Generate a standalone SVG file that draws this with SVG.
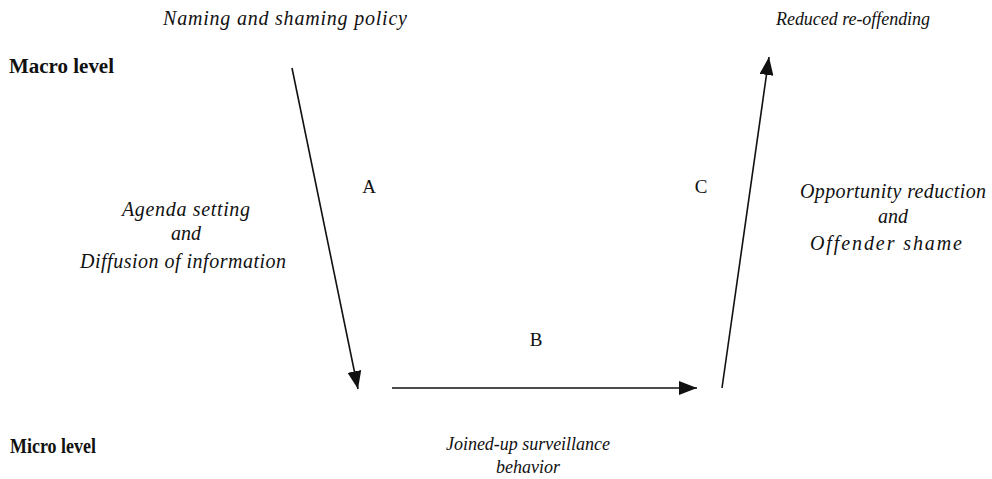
<svg xmlns="http://www.w3.org/2000/svg" width="992" height="479" viewBox="0 0 992 479">
<defs>
<style>
.it{font-family:"Liberation Serif","Times New Roman",serif;font-style:italic;font-size:20px;fill:#111;text-anchor:middle}
.sm{font-size:18px}
.bd{font-family:"Liberation Serif","Times New Roman",serif;font-weight:bold;font-size:20px;fill:#111}
.lb{font-family:"Liberation Serif","Times New Roman",serif;font-size:19px;fill:#111;text-anchor:middle}
.ar{stroke:#111;stroke-width:1.6;fill:none}
</style>
<marker id="ah" markerUnits="userSpaceOnUse" markerWidth="20" markerHeight="14" refX="18" refY="7" orient="auto">
<path d="M0,0 L18,7 L0,14 Z" fill="#111"/>
</marker>
</defs>
<rect width="992" height="479" fill="#fff"/>
<g id="macro"><text class="bd" x="9" y="73" textLength="105" lengthAdjust="spacingAndGlyphs">Macro level</text></g>
<g id="micro"><text class="bd" x="10" y="453" textLength="86" lengthAdjust="spacingAndGlyphs">Micro level</text></g>
<g id="naming"><text class="it" x="285" y="25" textLength="244" lengthAdjust="spacing">Naming and shaming policy</text></g>
<g id="reduced"><text class="it sm" x="853" y="25" textLength="154" lengthAdjust="spacing">Reduced re-offending</text></g>
<g id="agenda">
<text class="it" x="186" y="216" textLength="128" lengthAdjust="spacing">Agenda setting</text>
<text class="it" x="186" y="240">and</text>
<text class="it" x="183" y="268" textLength="206" lengthAdjust="spacing">Diffusion of information</text>
</g>
<g id="opportunity">
<text class="it" x="893" y="198" textLength="186" lengthAdjust="spacing">Opportunity reduction</text>
<text class="it" x="893" y="223">and</text>
<text class="it" x="886" y="250" textLength="152" lengthAdjust="spacing">Offender shame</text>
</g>
<g id="joined">
<text class="it sm" x="528" y="450" textLength="164" lengthAdjust="spacing">Joined-up surveillance</text>
<text class="it sm" x="528" y="473">behavior</text>
</g>
<g id="labels">
<text class="lb" x="369" y="193">A</text>
<text class="lb" x="536" y="346">B</text>
<text class="lb" x="701" y="193">C</text>
</g>
<g id="connectors">
<line class="ar" x1="292" y1="68" x2="358" y2="389" marker-end="url(#ah)"/>
<line class="ar" x1="392" y1="388" x2="697" y2="388" marker-end="url(#ah)"/>
<line class="ar" x1="722" y1="388" x2="769" y2="57" marker-end="url(#ah)"/>
</g>
</svg>
